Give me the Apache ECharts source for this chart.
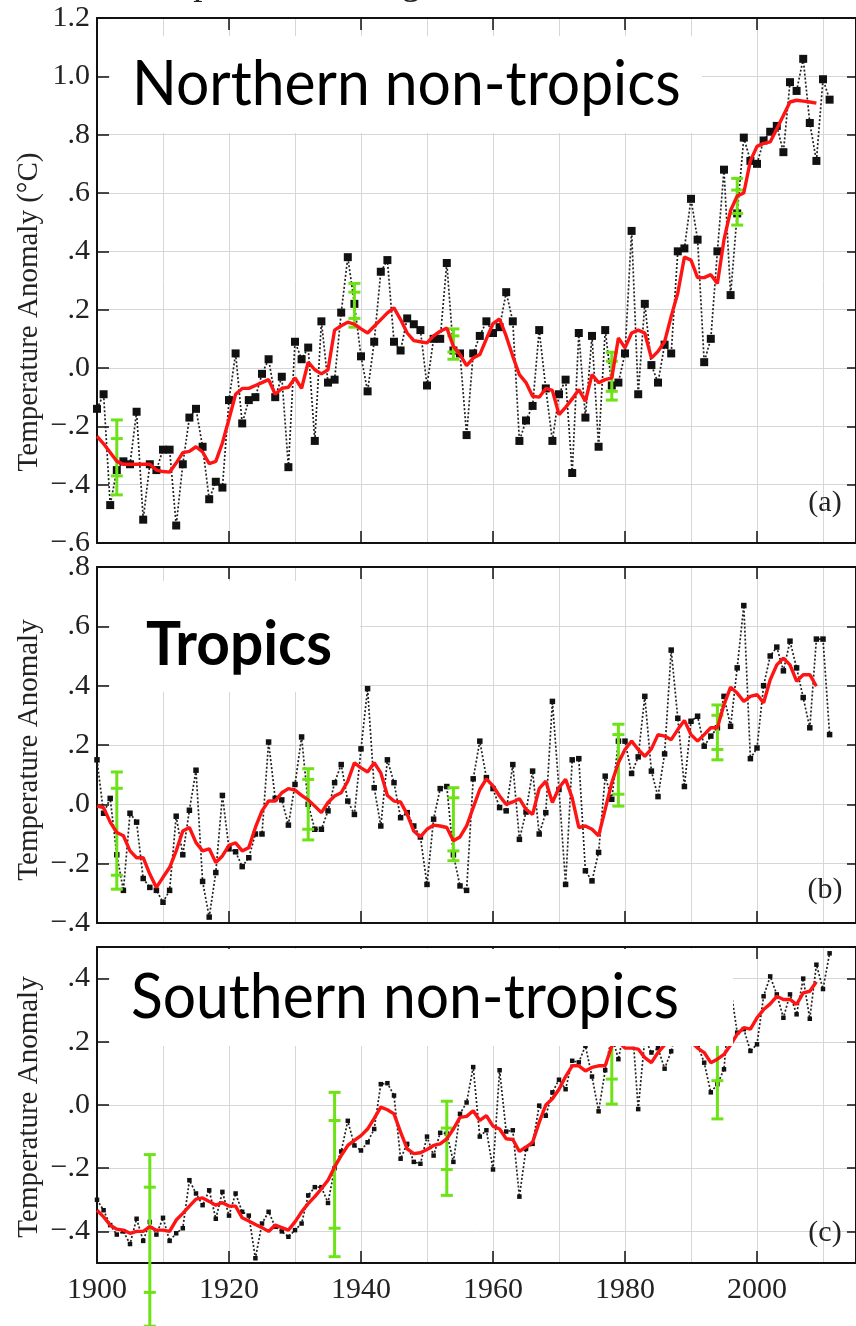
<!DOCTYPE html>
<html><head><meta charset="utf-8">
<script src="https://cdn.jsdelivr.net/npm/echarts@6/dist/echarts.min.js"></script>
<style>html,body{margin:0;padding:0;background:#fff}#c{width:856px;height:1326px}</style>
</head><body><div id="c"></div>
<script>
// ---------------- data ----------------
const firstYear = 1900;            // annual values start here (one value per year)
const xTickYears = [1920, 1940, 1960, 1980, 2000];
const xLabelYears = [1900, 1920, 1940, 1960, 1980, 2000];
const yTicksA = [-0.6, -0.4, -0.2, 0, 0.2, 0.4, 0.6, 0.8, 1.0, 1.2];
const yTicksB = [-0.4, -0.2, 0, 0.2, 0.4, 0.6, 0.8];
const yTicksC = [-0.4, -0.2, 0, 0.2, 0.4];

// (a) Northern non-tropics, annual anomalies 1900-2011
const northAnnual = [
 -0.14,-0.09,-0.47,-0.35,-0.32,-0.33,-0.15,-0.52,-0.33,-0.35,
 -0.28,-0.28,-0.54,-0.33,-0.17,-0.14,-0.27,-0.45,-0.39,-0.41,
 -0.11,0.05,-0.19,-0.11,-0.10,-0.02,0.03,-0.10,-0.03,-0.34,
 0.09,0.03,0.07,-0.25,0.16,-0.05,-0.04,0.19,0.38,0.22,
 0.04,-0.08,0.09,0.33,0.37,0.09,0.06,0.17,0.15,0.13,
 -0.06,0.10,0.10,0.36,0.06,0.05,-0.23,0.05,0.11,0.16,
 0.12,0.14,0.26,0.16,-0.25,-0.18,-0.13,0.13,-0.07,-0.25,
 -0.09,-0.04,-0.36,0.12,-0.17,0.11,-0.27,0.13,-0.06,-0.05,
 0.05,0.47,-0.09,0.22,0.01,-0.05,0.08,0.05,0.40,0.41,
 0.58,0.44,0.02,0.10,0.40,0.68,0.25,0.53,0.79,0.71,
 0.70,0.78,0.81,0.83,0.74,0.98,0.95,1.06,0.84,0.71,
 0.99,0.92];
// (a) 5-year running mean 1900-2009
const northMean = [
 -0.234,-0.26,-0.29,-0.32,-0.33,-0.33,-0.33,-0.33,-0.33,-0.35,
 -0.355,-0.357,-0.326,-0.29,-0.286,-0.27,-0.288,-0.328,-0.32,-0.257,
 -0.175,-0.09,-0.07,-0.07,-0.06,-0.05,-0.04,-0.09,-0.07,-0.066,
 -0.034,-0.07,0.02,-0.006,-0.02,-0.006,0.13,0.145,0.157,0.15,
 0.134,0.12,0.143,0.166,0.189,0.206,0.166,0.12,0.094,0.09,
 0.086,0.11,0.126,0.137,0.074,0.046,0.008,0.034,0.046,0.10,
 0.152,0.168,0.109,0.04,-0.023,-0.05,-0.097,-0.10,-0.07,-0.077,
 -0.16,-0.135,-0.106,-0.074,-0.114,-0.023,-0.05,-0.04,-0.034,0.103,
 0.069,0.12,0.13,0.12,0.034,0.057,0.09,0.177,0.257,0.38,
 0.37,0.31,0.31,0.32,0.29,0.44,0.54,0.59,0.60,0.71,
 0.76,0.77,0.775,0.82,0.866,0.912,0.918,0.915,0.912,0.908];
// error bars: [year, outerLow, innerLow, innerHigh, outerHigh]
const northErr = [
 [1903, -0.435, -0.37, -0.242, -0.178],
 [1939, 0.14, 0.17, 0.26, 0.29],
 [1954, 0.03, 0.055, 0.11, 0.134],
 [1978, -0.11, -0.08, 0.023, 0.054],
 [1997, 0.49, 0.53, 0.61, 0.65]];

// (b) Tropics
const tropicsAnnual = [
 0.15,-0.03,0.02,-0.17,-0.29,-0.03,-0.06,-0.25,-0.28,-0.29,
 -0.33,-0.29,-0.04,-0.17,-0.02,0.115,-0.26,-0.38,-0.23,0.03,
 -0.15,-0.16,-0.21,-0.18,-0.10,-0.10,0.21,0.02,0.015,-0.07,
 0.067,0.227,0.0,-0.084,-0.084,-0.022,0.073,0.134,0.011,-0.034,
 0.187,0.39,0.056,-0.073,0.15,0.073,-0.045,-0.028,-0.073,-0.11,
 -0.27,-0.05,0.053,0.06,-0.17,-0.275,-0.29,0.086,0.213,0.09,
 0.053,-0.011,-0.022,0.134,-0.118,-0.026,0.112,-0.10,-0.028,0.347,
 0.05,-0.27,0.15,0.154,-0.224,-0.258,-0.162,0.095,0.017,0.213,
 0.213,0.104,0.16,0.364,0.112,0.026,0.17,0.52,0.29,0.06,
 0.28,0.297,0.196,0.23,0.258,0.364,0.263,0.46,0.67,0.154,
 0.19,0.40,0.50,0.53,0.45,0.55,0.46,0.36,0.258,0.557,
 0.557,0.235];
const tropicsMean = [
 -0.006,-0.011,-0.06,-0.095,-0.106,-0.157,-0.18,-0.18,-0.235,-0.28,
 -0.246,-0.213,-0.157,-0.09,-0.078,-0.129,-0.157,-0.15,-0.196,-0.174,
 -0.138,-0.13,-0.157,-0.146,-0.078,-0.022,0.011,0.011,0.039,0.053,
 0.048,0.03,0.015,-0.006,-0.028,0.006,0.028,0.039,0.078,0.14,
 0.123,0.109,0.14,0.106,0.03,0.011,0.008,-0.034,-0.09,-0.11,
 -0.084,-0.07,-0.073,-0.078,-0.123,-0.11,-0.073,-0.011,0.05,0.086,
 0.062,0.028,0.0,0.008,0.019,-0.017,-0.034,0.053,0.078,0.006,
 0.056,0.084,0.022,-0.078,-0.073,-0.084,-0.106,-0.017,0.073,0.14,
 0.185,0.213,0.185,0.162,0.187,0.235,0.23,0.218,0.252,0.283,
 0.235,0.213,0.235,0.258,0.258,0.336,0.395,0.375,0.347,0.364,
 0.37,0.342,0.42,0.47,0.493,0.47,0.415,0.437,0.437,0.398];
const tropicsErr = [
 [1903, -0.286, -0.239, 0.054, 0.109],
 [1932, -0.12, -0.084, 0.084, 0.12],
 [1954, -0.19, -0.157, 0.022, 0.056],
 [1979, -0.006, 0.034, 0.235, 0.27],
 [1994, 0.15, 0.185, 0.30, 0.335]];

// (c) Southern non-tropics
const southAnnual = [
 -0.30,-0.333,-0.38,-0.41,-0.40,-0.44,-0.36,-0.43,-0.37,-0.41,
 -0.357,-0.43,-0.406,-0.39,-0.238,-0.28,-0.317,-0.27,-0.36,-0.275,
 -0.35,-0.28,-0.338,-0.35,-0.485,-0.375,-0.338,-0.385,-0.40,-0.417,
 -0.396,-0.375,-0.286,-0.26,-0.26,-0.31,-0.20,-0.147,-0.05,-0.128,
 -0.144,-0.118,-0.076,0.066,0.069,0.03,-0.17,-0.123,-0.18,-0.186,
 -0.10,-0.16,-0.088,-0.09,-0.18,-0.028,0.008,0.12,-0.10,-0.08,
 -0.204,0.11,-0.084,-0.08,-0.29,-0.139,-0.123,-0.002,-0.034,0.04,
 0.08,0.05,0.14,0.135,0.187,0.09,-0.02,0.11,0.22,0.145,
 0.25,0.28,-0.013,0.21,0.166,0.18,0.115,0.17,0.26,0.23,
 0.30,0.19,0.134,0.04,0.066,0.113,0.37,0.229,0.24,0.171,
 0.192,0.344,0.407,0.35,0.276,0.35,0.287,0.40,0.273,0.444,
 0.367,0.48];
const southMean = [
 -0.333,-0.354,-0.38,-0.393,-0.396,-0.406,-0.40,-0.40,-0.385,-0.396,
 -0.396,-0.40,-0.364,-0.343,-0.32,-0.298,-0.294,-0.305,-0.317,-0.309,
 -0.32,-0.32,-0.357,-0.367,-0.378,-0.388,-0.40,-0.38,-0.388,-0.396,
 -0.37,-0.338,-0.312,-0.29,-0.265,-0.238,-0.196,-0.16,-0.128,-0.112,
 -0.097,-0.076,-0.042,-0.007,-0.015,-0.028,-0.086,-0.139,-0.154,-0.151,
 -0.141,-0.128,-0.123,-0.107,-0.076,-0.039,-0.036,-0.018,-0.049,-0.034,
 -0.067,-0.076,-0.107,-0.109,-0.147,-0.133,-0.118,-0.055,0.0,0.02,
 0.05,0.09,0.124,0.124,0.108,0.119,0.124,0.124,0.187,0.2,
 0.18,0.18,0.177,0.15,0.134,0.166,0.19,0.21,0.23,0.22,
 0.2,0.18,0.166,0.134,0.145,0.16,0.19,0.224,0.245,0.24,
 0.276,0.302,0.32,0.344,0.334,0.334,0.318,0.355,0.36,0.39];
const southErr = [
 [1908, -0.70, -0.593, -0.26, -0.157],
 [1936, -0.48, -0.39, -0.049, 0.04],
 [1953, -0.286, -0.204, -0.073, 0.012],
 [1978, 0.003, 0.082, 0.22, 0.30],
 [1994, -0.044, 0.077, 0.20, 0.32]];

const titles = ['Northern non-tropics', 'Tropics', 'Southern non-tropics'];
const yNames = ['Temperature Anomaly (°C)', 'Temperature Anomaly', 'Temperature Anomaly'];
const tags = ['(a)', '(b)', '(c)'];
const topTitle = 'Temperature Change for Three Latitude Bands';

// ---------------- layout / style ----------------
const GREEN = '#6de317', RED = '#ff1414', GRIDC = '#d6d6d6';
const SERIF = '"Liberation Serif", "Times New Roman", serif';
const SANS = 'Lato, "Open Sans", sans-serif';
const panels = [
 {top: 18, height: 525, min: -0.6, max: 1.2, ticks: yTicksA, annual: northAnnual, mean: northMean, err: northErr,
  sym: 'rect', symSize: 8, nameY: 312, tagY: 503,
  box: [110, 36, 592, 97], title: {x: 132, y: 85, w: 'normal', sx: 0.948}},
 {top: 567, height: 356, min: -0.4, max: 0.8, ticks: yTicksB, annual: tropicsAnnual, mean: tropicsMean, err: tropicsErr,
  sym: 'rect', symSize: 5.5, nameY: 750, tagY: 890,
  box: [110, 581, 250, 111], title: {x: 146, y: 645, w: 'bold', sx: 0.945}},
 {top: 947, height: 316, min: -0.5, max: 0.5, ticks: yTicksC, annual: southAnnual, mean: southMean, err: southErr,
  sym: 'rect', symSize: 4.5, nameY: 1107, tagY: 1233,
  box: [110, 949, 623, 97], title: {x: 131, y: 998, w: 'normal', sx: 0.948}}
];
const LEFT = 97, WIDTH = 762;

function yFmt(v) {
  const r = Math.round(v * 10) / 10;
  let s = Math.abs(r).toFixed(1);
  if (Math.abs(r) < 1) s = s.replace(/^0/, '');
  return (r < 0 ? '\u2212' : '') + s;
}

function renderErr(params, api) {
  const x = api.value(0);
  const pts = [1, 2, 3, 4].map(i => api.coord([x, api.value(i)]));
  const cap = 6;
  const style = {stroke: GREEN, lineWidth: 3};
  const children = [{type: 'line', shape: {x1: pts[0][0], y1: pts[0][1], x2: pts[3][0], y2: pts[3][1]}, style}];
  pts.forEach(p => children.push({type: 'line', shape: {x1: p[0] - cap, y1: p[1], x2: p[0] + cap, y2: p[1]}, style}));
  return {type: 'group', children};
}

const grid = [], xAxis = [], yAxis = [], series = [], graphic = [];
panels.forEach((p, i) => {
  grid.push({left: LEFT, top: p.top, width: WIDTH, height: p.height});
});
panels.forEach((p, i) => {
  grid.push({left: LEFT, top: p.top, width: WIDTH, height: p.height});
});
const axisLine = {show: true, onZero: false, lineStyle: {color: '#111', width: 2}};
panels.forEach((p, i) => {
  const base = {type: 'value', min: 1900, max: 2015};
  xAxis.push(Object.assign({}, base, {gridIndex: i, position: 'bottom', axisLine,
    axisTick: {show: true, inside: true, length: 12, customValues: xTickYears, lineStyle: {color: '#111', width: 1.5}},
    axisLabel: {show: i === 2, customValues: xLabelYears, formatter: v => String(v), color: '#222',
      fontFamily: SERIF, fontSize: 30, margin: 12},
    splitLine: {show: false}}));
  xAxis.push(Object.assign({}, base, {gridIndex: i, position: 'top', axisLine,
    axisTick: {show: true, inside: true, length: 12, customValues: xTickYears, lineStyle: {color: '#111', width: 1.5}},
    axisLabel: {show: false}, splitLine: {show: false}}));
  xAxis.push(Object.assign({}, base, {gridIndex: 3 + i, interval: 10, axisLine: {show: false, onZero: false}, axisTick: {show: false},
    axisLabel: {show: false}, splitLine: {show: true, lineStyle: {color: GRIDC, width: 1}}}));

  yAxis.push({type: 'value', gridIndex: i, position: 'left', min: p.min, max: p.max, axisLine,
    axisTick: {show: true, inside: true, length: 12, customValues: p.ticks, lineStyle: {color: '#111', width: 1.5}},
    axisLabel: {customValues: p.ticks, formatter: yFmt, color: '#222', fontFamily: SERIF, fontSize: 30, margin: 7},
    splitLine: {show: true, lineStyle: {color: GRIDC, width: 1}}});
  yAxis.push({type: 'value', gridIndex: i, position: 'right', min: p.min, max: p.max, axisLine,
    axisTick: {show: true, inside: true, length: 9, customValues: p.ticks, lineStyle: {color: '#111', width: 1.5}},
    axisLabel: {show: false}, splitLine: {show: false}});
  yAxis.push({type: 'value', gridIndex: 3 + i, min: p.min, max: p.max, show: false});

  series.push({type: 'line', xAxisIndex: 3 * i, yAxisIndex: 3 * i, z: 2,
    data: p.annual.map((v, k) => [firstYear + k, v]),
    symbol: p.sym, symbolSize: p.symSize, showSymbol: true,
    itemStyle: {color: '#111'}, lineStyle: {color: '#222', width: 1.7, type: [2, 2]}, animation: false, silent: true});
  series.push({type: 'custom', xAxisIndex: 3 * i, yAxisIndex: 3 * i, z: 3, clip: false,
    renderItem: renderErr, data: p.err, encode: {x: 0, y: [1, 2, 3, 4]}, animation: false, silent: true});
  series.push({type: 'line', xAxisIndex: 3 * i, yAxisIndex: 3 * i, z: 4,
    data: p.mean.map((v, k) => [firstYear + k, v]),
    symbol: 'none', lineStyle: {color: RED, width: 3.4}, animation: false, silent: true});

  // white label box and title text
  graphic.push({type: 'rect', z: 100, shape: {x: p.box[0], y: p.box[1], width: p.box[2], height: p.box[3]},
    style: {fill: '#fff'}, silent: true});
  graphic.push({type: 'text', z: 101, x: p.title.x, y: p.title.y, scaleX: p.title.sx,
    style: {text: titles[i], fontFamily: SANS, fontWeight: p.title.w, fontSize: 62, fill: '#000',
      align: 'left', verticalAlign: 'middle', textAlign: 'left', textVerticalAlign: 'middle'}, silent: true});
  // y-axis name
  graphic.push({type: 'text', z: 50, x: 29, y: p.nameY, rotation: Math.PI / 2,
    style: {text: yNames[i], fontFamily: SERIF, fontSize: 29, fill: '#222',
      align: 'center', verticalAlign: 'middle', textAlign: 'center', textVerticalAlign: 'middle'}, silent: true});
  // panel tag
  graphic.push({type: 'text', z: 50, x: 825, y: p.tagY,
    style: {text: tags[i], fontFamily: SERIF, fontSize: 30, fill: '#222',
      align: 'center', verticalAlign: 'middle', textAlign: 'center', textVerticalAlign: 'middle'}, silent: true});
});
// cut-off figure title at the very top
graphic.push({type: 'text', z: 50, x: 128, y: 3,
  style: {text: topTitle, fontFamily: SERIF, fontSize: 37, fill: '#222',
    align: 'left', verticalAlign: 'bottom', textAlign: 'left', textVerticalAlign: 'bottom'}, silent: true});

const chart = echarts.init(document.getElementById('c'), null, {renderer: 'canvas', width: 856, height: 1326});
chart.setOption({animation: false, backgroundColor: '#fff', grid, xAxis, yAxis, series, graphic});
</script></body></html>
